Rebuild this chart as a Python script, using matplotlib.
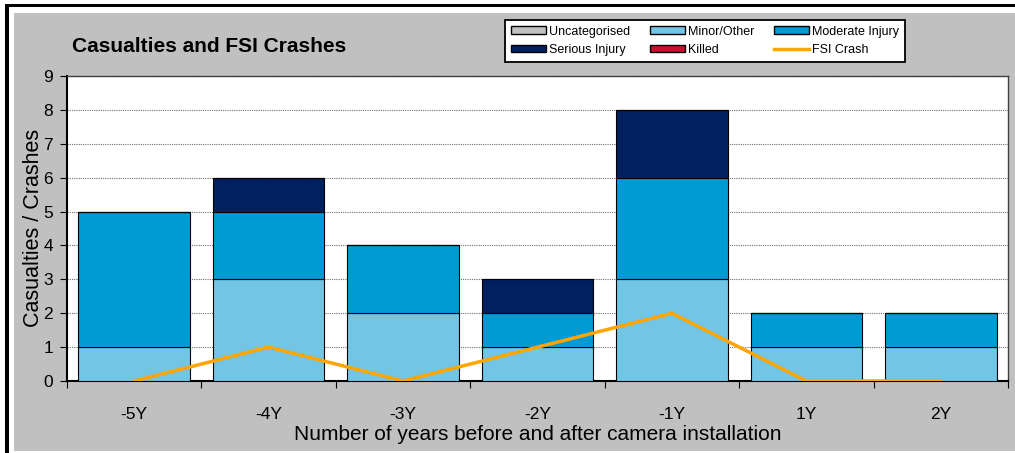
import matplotlib
matplotlib.use("Agg")
import matplotlib.pyplot as plt
import numpy as np
from matplotlib.patches import Patch, Rectangle
from matplotlib.lines import Line2D

plt.rcParams['font.family'] = ['Liberation Sans', 'DejaVu Sans']

categories = ['-5Y', '-4Y', '-3Y', '-2Y', '-1Y', '1Y', '2Y']
uncategorised = [0, 0, 0, 0, 0, 0, 0]
minor = [1, 3, 2, 1, 3, 1, 1]
moderate = [4, 2, 2, 1, 3, 1, 1]
serious = [0, 1, 0, 1, 2, 0, 0]
killed = [0, 0, 0, 0, 0, 0, 0]
fsi_crash = [0, 1, 0, 1, 2, 0, 0]

col_unc = '#c0c0c0'
col_minor = '#72c5e5'
col_mod = '#009bd5'
col_ser = '#002060'
col_kil = '#c8102e'
col_fsi = '#ffa500'

W, H = 1015, 453
fig = plt.figure(figsize=(W/100, H/100), dpi=100)
fig.patch.set_facecolor('white')

# gray chart area and black outer frame lines (drawn behind the axes)
fig.patches.append(Rectangle((14/W, 1-451/H), (W-14)/W, (451-13)/H, transform=fig.transFigure,
                             facecolor='#c0c0c0', edgecolor='none', zorder=-5))
fig.patches.append(Rectangle((5/W, 1-7/H), (W-5)/W, 3/H, transform=fig.transFigure,
                             facecolor='black', edgecolor='none', zorder=-5))
fig.patches.append(Rectangle((5/W, 0), 4/W, 1-4/H, transform=fig.transFigure,
                             facecolor='black', edgecolor='none', zorder=-5))

ax = fig.add_axes([67/W, 1-381/H, (1008-67)/W, (381-76)/H])
ax.set_facecolor('white')

x = np.arange(len(categories))
w = 0.83
bottom = np.zeros(len(categories))
for vals, c in [(uncategorised, col_unc), (minor, col_minor), (moderate, col_mod),
                (serious, col_ser), (killed, col_kil)]:
    v = np.array(vals, dtype=float)
    ax.bar(x, v, w, bottom=bottom, color=c, edgecolor='black', linewidth=0.8, zorder=3)
    bottom += v

ax.plot(x, fsi_crash, color=col_fsi, linewidth=2.5, zorder=4)

ax.set_xlim(-0.5, len(categories)-0.5)
ax.set_ylim(0, 9)
ax.set_yticks(range(10))
ax.yaxis.grid(True, linestyle=(0, (1, 1)), color='#707070', linewidth=0.8, zorder=0)
ax.set_xticks(np.arange(-0.5, len(categories), 1.0))
ax.set_xticklabels([])
ax.set_xticks(x, minor=True)
ax.set_xticklabels(categories, minor=True)
ax.tick_params(axis='x', which='minor', length=0, pad=19, labelsize=12.5)
ax.tick_params(axis='x', which='major', length=5, direction='out', color='black')
ax.tick_params(axis='y', length=5, direction='out', labelsize=12.5, pad=5)
for s in ['top', 'right']:
    ax.spines[s].set_color('#404040')
    ax.spines[s].set_linewidth(1.0)
for s in ['left', 'bottom']:
    ax.spines[s].set_linewidth(1.5)

fig.text(34/W, 1-228/H, 'Casualties / Crashes', rotation=90, ha='center', va='center',
         fontsize=15.5)
fig.text((67+1008)/2/W, 1-434/H, 'Number of years before and after camera installation',
         ha='center', va='center', fontsize=15)
fig.text(72/W, 1-46/H, 'Casualties and FSI Crashes', ha='left', va='center',
         fontsize=15, fontweight='bold')

handles = [Patch(facecolor=col_unc, edgecolor='black', label='Uncategorised'),
           Patch(facecolor=col_ser, edgecolor='black', label='Serious Injury'),
           Patch(facecolor=col_minor, edgecolor='black', label='Minor/Other'),
           Patch(facecolor=col_kil, edgecolor='black', label='Killed'),
           Patch(facecolor=col_mod, edgecolor='black', label='Moderate Injury'),
           Line2D([0], [0], color=col_fsi, linewidth=2.5, label='FSI Crash')]
leg = fig.legend(handles=handles, ncol=3, loc='upper left',
                 bbox_to_anchor=(505/W, 1-20/H), borderaxespad=0, fontsize=9,
                 frameon=True, framealpha=1,
                 fancybox=False, edgecolor='black', handlelength=2.8, handleheight=0.55,
                 columnspacing=1.6, handletextpad=0.25, borderpad=0.45, labelspacing=0.5)
leg.get_frame().set_linewidth(1.3)
leg.get_frame().set_facecolor('white')

fig.savefig('out.png', dpi=100, facecolor=fig.get_facecolor())
